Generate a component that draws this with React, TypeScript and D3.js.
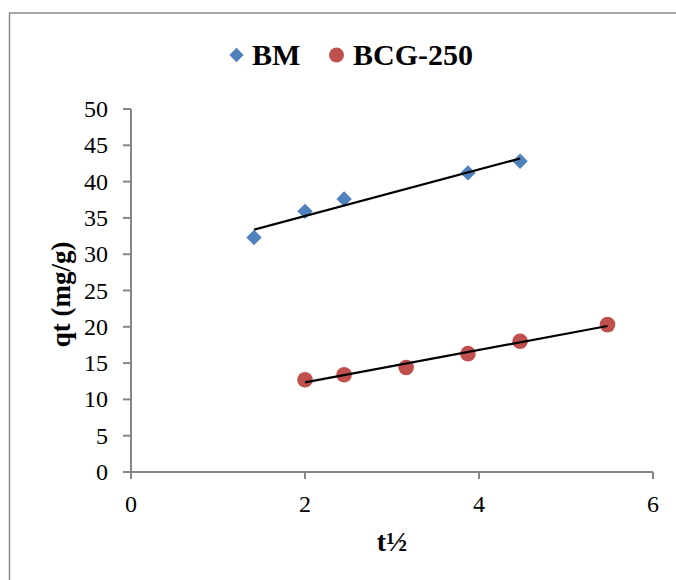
import React from "react";
import * as d3 from "d3";

// Square-root of contact time (t½) and uptake qt (mg/g) for each adsorbent
const bmT = [Math.sqrt(2), 2, Math.sqrt(6), Math.sqrt(15), Math.sqrt(20)];
const bmQ = [32.3, 35.9, 37.6, 41.2, 42.8];
const bcgT = [2, Math.sqrt(6), Math.sqrt(10), Math.sqrt(15), Math.sqrt(20), Math.sqrt(30)];
const bcgQ = [12.7, 13.4, 14.4, 16.3, 18.0, 20.3];

const xTicks = [0, 2, 4, 6];
const yTicks = [0, 5, 10, 15, 20, 25, 30, 35, 40, 45, 50];

const W = 676;
const H = 580;
const FONT = "'Liberation Serif', 'Times New Roman', serif";
const BLUE = "#4F81BD";
const RED = "#C0504D";
const AXIS = "#868686";

function linearFit(xs: number[], ys: number[]) {
  const mx = d3.mean(xs)!;
  const my = d3.mean(ys)!;
  let sxy = 0;
  let sxx = 0;
  xs.forEach((x, i) => {
    sxy += (x - mx) * (ys[i] - my);
    sxx += (x - mx) * (x - mx);
  });
  const slope = sxy / sxx;
  const intercept = my - slope * mx;
  const x0 = d3.min(xs)!;
  const x1 = d3.max(xs)!;
  return [
    [x0, intercept + slope * x0],
    [x1, intercept + slope * x1],
  ] as [number, number][];
}

export default function App() {
  const x = d3.scaleLinear().domain([0, 6]).range([131, 653]);
  const y = d3.scaleLinear().domain([0, 50]).range([472, 109]);
  const line = d3
    .line<[number, number]>()
    .x((d) => x(d[0]))
    .y((d) => y(d[1]));
  const diamond = d3.symbol().type(d3.symbolDiamond2).size(150)();
  const legendDiamond = d3.symbol().type(d3.symbolDiamond2).size(130)();

  const bmFit = linearFit(bmT, bmQ);
  const bcgFit = linearFit(bcgT, bcgQ);

  return (
    <svg
      width={W}
      height={H}
      style={{ position: "absolute", left: 0, top: 0, background: "#fff" }}
      fontFamily={FONT}
    >
      <rect x={9.5} y={13} width={W + 10} height={H + 10} fill="#fff" stroke="#898989" strokeWidth={1.5} />

      {/* legend */}
      <g>
        <path d={legendDiamond ?? ""} transform="translate(236.5,55)" fill={BLUE} />
        <text x={252} y={65} fontSize={30} fontWeight="bold" fill="#000">
          BM
        </text>
        <circle cx={336.5} cy={55} r={7.5} fill={RED} />
        <text x={353} y={65} fontSize={30} fontWeight="bold" fill="#000">
          BCG-250
        </text>
      </g>

      {/* axes */}
      <line x1={x(0)} x2={x(0)} y1={y(50)} y2={y(0)} stroke={AXIS} strokeWidth={2} />
      <line x1={x(0)} x2={x(6)} y1={y(0)} y2={y(0)} stroke={AXIS} strokeWidth={2} />
      {yTicks.map((t) => (
        <g key={"y" + t}>
          <line x1={x(0) - 8} x2={x(0)} y1={y(t)} y2={y(t)} stroke={AXIS} strokeWidth={2} />
          <text x={108} y={y(t) + 8} fontSize={24} textAnchor="end" fill="#000">
            {t}
          </text>
        </g>
      ))}
      {xTicks.map((t) => (
        <g key={"x" + t}>
          <line x1={x(t)} x2={x(t)} y1={y(0)} y2={y(0) + 7} stroke={AXIS} strokeWidth={2} />
          <text x={x(t)} y={512} fontSize={24} textAnchor="middle" fill="#000">
            {t}
          </text>
        </g>
      ))}

      {/* axis titles */}
      <text
        transform={`translate(70,${(y(0) + y(50)) / 2 + 4}) rotate(-90)`}
        fontSize={27}
        fontWeight="bold"
        textAnchor="middle"
        fill="#000"
      >
        qt (mg/g)
      </text>
      <text x={392} y={551} fontSize={28} fontWeight="bold" textAnchor="middle" fill="#000">
        t½
      </text>

      {/* markers */}
      {bmT.map((t, i) => (
        <path key={"bm" + i} d={diamond ?? ""} transform={`translate(${x(t)},${y(bmQ[i])})`} fill={BLUE} />
      ))}
      {bcgT.map((t, i) => (
        <circle key={"bcg" + i} cx={x(t)} cy={y(bcgQ[i])} r={7.8} fill={RED} />
      ))}

      {/* linear trendlines */}
      <path d={line(bmFit) ?? ""} fill="none" stroke="#000" strokeWidth={2.2} />
      <path d={line(bcgFit) ?? ""} fill="none" stroke="#000" strokeWidth={2.2} />
    </svg>
  );
}
